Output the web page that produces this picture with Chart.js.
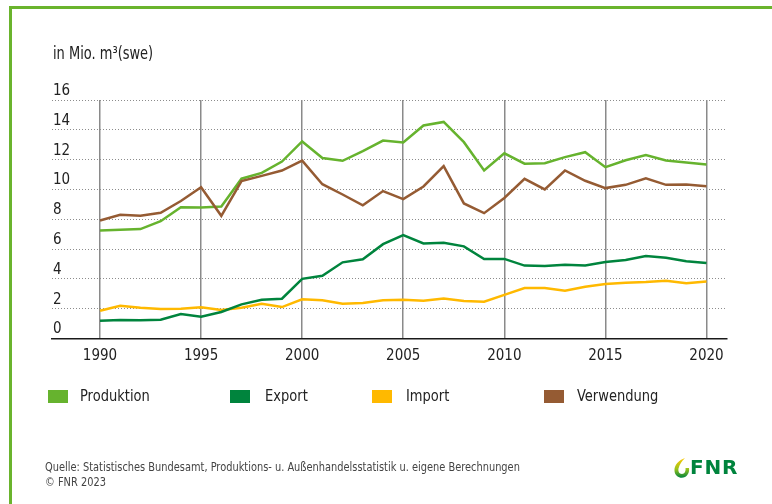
<!DOCTYPE html>
<html>
<head>
<meta charset="utf-8">
<script src="https://cdn.jsdelivr.net/npm/chart.js@4"></script>
<style>
  html, body { margin:0; padding:0; background:#fff; }
  #wrap { position:relative; width:772px; height:504px; overflow:hidden; background:#fff;
          font-family:"Liberation Sans Narrow","DejaVu Sans Condensed","Roboto",sans-serif; color:#222; }
  #frameTop { position:absolute; left:9px; top:6px; width:763px; height:3px; background:#6ab42d; }
  #frameLeft { position:absolute; left:9px; top:6px; width:3px; height:498px; background:#6ab42d; }
  canvas { position:absolute; left:0; top:0; }
  .sq { transform-origin:0 50%; }
  #unit { position:absolute; left:53px; top:43px; font-size:17px; line-height:20px; white-space:nowrap; transform:scaleX(0.85); }
  .lg { position:absolute; top:385px; height:22px; line-height:22px; font-size:16.5px; white-space:nowrap; transform:scaleX(0.88); }
  .sw { position:absolute; top:390px; width:20px; height:13px; }
  #foot { position:absolute; left:45px; top:459px; font-size:13px; line-height:15px; color:#444; white-space:nowrap; transform:scaleX(0.84); }
  #logo { position:absolute; left:673px; top:456px; height:24px; }
  #fnr { position:absolute; left:690px; top:455px; font-family:"DejaVu Sans","Liberation Sans",sans-serif;
         font-weight:bold; font-size:20px; line-height:24px; color:#00843d; letter-spacing:0.8px; }
</style>
</head>
<body>
<div id="wrap">
  <div id="frameTop"></div>
  <div id="frameLeft"></div>
  <canvas id="c" width="772" height="504"></canvas>
  <div id="unit" class="sq">in Mio. m³(swe)</div>
  <div id="legend"></div>
  <div id="foot" class="sq">Quelle: Statistisches Bundesamt, Produktions- u. Außenhandelsstatistik u. eigene Berechnungen<br>© FNR 2023</div>
  <svg id="logo" width="18" height="24" viewBox="0 0 18 24">
    <defs>
      <linearGradient id="g" x1="0" y1="0" x2="0" y2="1">
        <stop offset="0" stop-color="#ffc800"/>
        <stop offset="0.55" stop-color="#9cc31c"/>
        <stop offset="1" stop-color="#00843d"/>
      </linearGradient>
    </defs>
    <path d="M12 2 C6 4 1 9 1.5 15 C2 21 8 23 12 21 C15.5 19 16.5 15 16 12 L12.5 12 C13 15 11.5 18 9 18 C6 18 5 15 5.5 12.5 C6.5 8 9 5 12 2 Z" fill="url(#g)"/>
  </svg>
  <div id="fnr">FNR</div>
</div>
<script>
const years = [1990,1991,1992,1993,1994,1995,1996,1997,1998,1999,2000,2001,2002,2003,2004,2005,2006,2007,2008,2009,2010,2011,2012,2013,2014,2015,2016,2017,2018,2019,2020];
const produktion = [7.25,7.29,7.34,7.87,8.81,8.79,8.86,10.72,11.11,11.87,13.22,12.11,11.92,12.57,13.28,13.15,14.29,14.53,13.17,11.27,12.42,11.73,11.76,12.17,12.50,11.49,11.96,12.30,11.94,11.81,11.67];
const exportVals = [1.19,1.24,1.22,1.26,1.64,1.46,1.78,2.29,2.60,2.67,4.00,4.21,5.11,5.31,6.33,6.94,6.38,6.42,6.18,5.33,5.34,4.89,4.86,4.95,4.90,5.13,5.26,5.53,5.42,5.19,5.06];
const importVals = [1.86,2.20,2.07,1.98,2.00,2.09,1.91,2.07,2.33,2.11,2.63,2.56,2.33,2.38,2.56,2.60,2.53,2.69,2.51,2.47,2.93,3.38,3.38,3.20,3.47,3.65,3.74,3.79,3.88,3.70,3.83];
const verwendung = [7.92,8.30,8.23,8.43,9.22,10.15,8.23,10.56,10.91,11.27,11.93,10.35,9.66,8.93,9.89,9.35,10.20,11.56,9.06,8.41,9.43,10.71,10.00,11.27,10.58,10.09,10.31,10.74,10.31,10.33,10.22];
const xTicks = [1990,1995,2000,2005,2010,2015,2020];
const yTicks = [0,2,4,6,8,10,12,14,16];
const seriesNames = ["Produktion","Export","Import","Verwendung"];
const seriesColors = ["#66b32e","#00843d","#ffb900","#955b33"];

const seriesValues = [produktion, exportVals, importVals, verwendung];
const FONT = '"Liberation Sans Narrow","DejaVu Sans Condensed","Roboto",sans-serif';

// HTML legend
const legendPos = [[48,80],[230,265],[372,406],[544,577]];
const lg = document.getElementById('legend');
seriesNames.forEach((n,i)=>{
  const sw = document.createElement('div'); sw.className='sw';
  sw.style.left = legendPos[i][0]+'px'; sw.style.background = seriesColors[i];
  const t = document.createElement('div'); t.className='lg sq';
  t.style.left = legendPos[i][1]+'px'; t.textContent = n;
  lg.appendChild(sw); lg.appendChild(t);
});

const datasets = seriesNames.map((n,i)=>({
  label:n,
  data: years.map((y,k)=>({x:y, y:seriesValues[i][k]})),
  borderColor: seriesColors[i],
  backgroundColor: seriesColors[i],
  borderWidth: 2.5,
  pointRadius: 0,
  tension: 0,
  fill: false,
  order: [1,2,3,0][i]
}));

new Chart(document.getElementById('c'), {
  type:'line',
  data:{ datasets },
  options:{
    responsive:false,
    devicePixelRatio:1,
    animation:false,
    layout:{ padding:{ left:52, right:45, top:100, bottom:125.5 } },
    plugins:{ legend:{display:false}, tooltip:{enabled:false} },
    scales:{
      x:{
        type:'linear',
        min:1987.626, max:2021.014,
        afterBuildTicks:(s)=>{ s.ticks = xTicks.map(v=>({value:v})); },
        afterFit:(s)=>{ s.height = 40; },
        grid:{ color:'#8a8a8a', lineWidth:1.5, drawTicks:false },
        border:{ display:true, color:'#1a1a1a', width:1.5 },
        ticks:{ autoSkip:false, maxRotation:0, padding:9, color:'#222',
                font:{ family:FONT, size:15 }, callback:(v)=>String(v) }
      },
      y:{
        min:0, max:16,
        afterBuildTicks:(s)=>{ s.ticks = yTicks.map(v=>({value:v})); },
        afterFit:(s)=>{ s.width = 0; },
        grid:{ color:(ctx)=> (ctx.tick && ctx.tick.value===0) ? 'rgba(0,0,0,0)' : '#8c8c8c', lineWidth:1, drawTicks:false },
        border:{ display:false, dash:[1,2] },
        ticks:{ mirror:true, padding:1, labelOffset:-9, color:'#222',
                font:{ family:FONT, size:15 }, callback:(v)=>String(v) }
      }
    }
  }
});
</script>
</body>
</html>
